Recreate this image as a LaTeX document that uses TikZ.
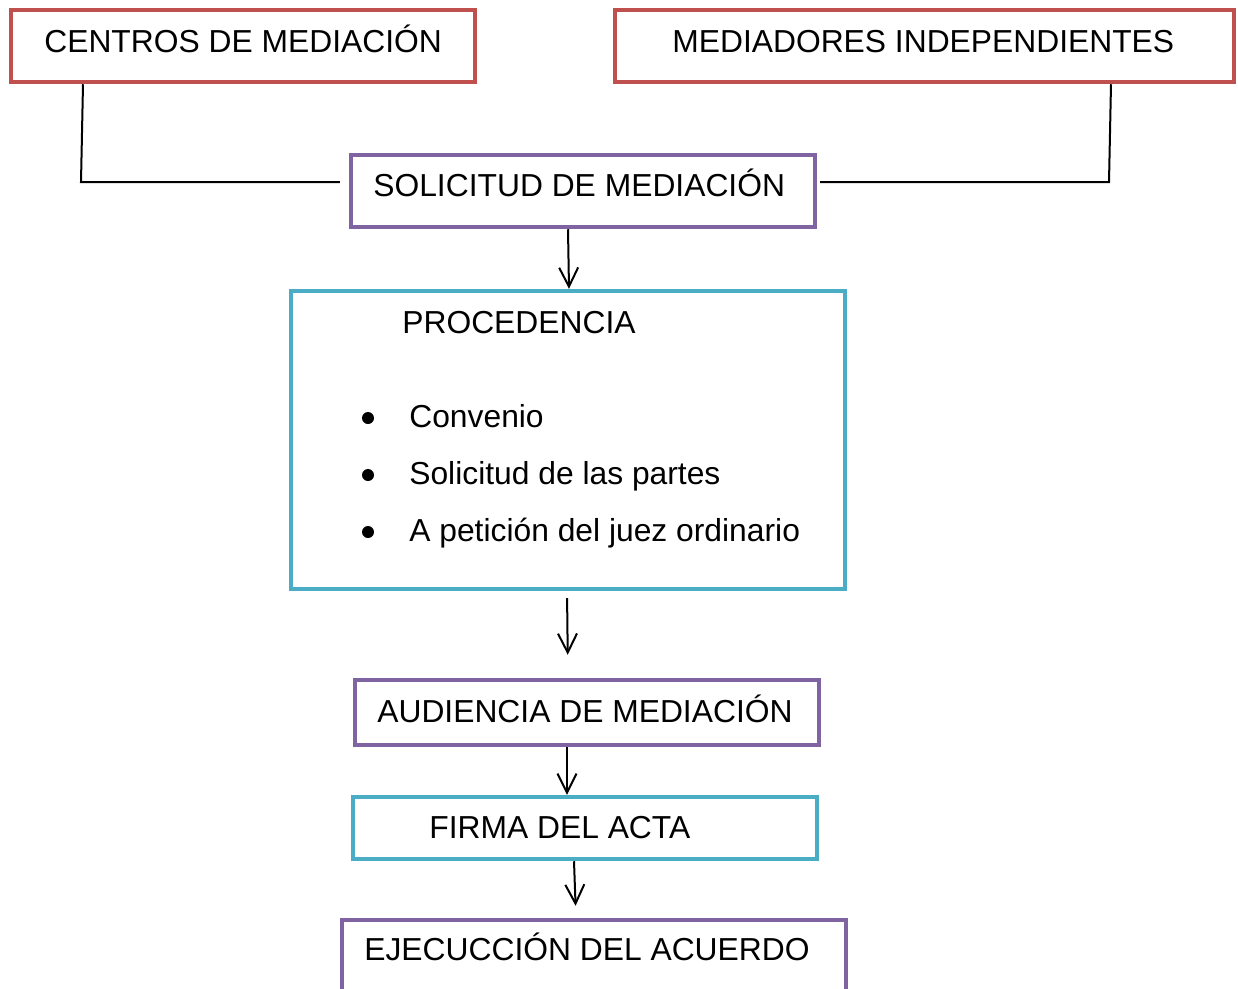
\documentclass[tikz,border=0pt]{standalone}
\usepackage{fontspec}
\setmainfont{Liberation Sans}
\usetikzlibrary{arrows.meta}
\usetikzlibrary{positioning}
\definecolor{boxred}{HTML}{C0504D}
\definecolor{boxpurple}{HTML}{8064A2}
\definecolor{boxteal}{HTML}{4BACC6}
\begin{document}
\begin{tikzpicture}[x=0.02cm,y=-0.02cm,
  redbox/.style={draw=boxred,line width=0.09cm,inner sep=0pt},
  purplebox/.style={draw=boxpurple,line width=0.09cm,inner sep=0pt},
  tealbox/.style={draw=boxteal,line width=0.09cm,inner sep=0pt},
  lbl/.style={font=\fontsize{18.1}{22}\selectfont,anchor=base west,inner sep=0pt},
  link/.style={line width=0.04cm},
  arr/.style={-{Straight Barb[length=0.38cm,width=0.38cm]},line width=0.04cm}]
\clip (0,0) rectangle (1238,988);
\fill[white] (0,0) rectangle (1238,988);
% upper boxes
\node[redbox,minimum width=9.28cm,minimum height=1.44cm] (centros) at (243,46) {};
\node[lbl] (centrosT) at (44,52) {CENTROS DE MEDIACIÓN};
\node[redbox,minimum width=12.38cm,minimum height=1.44cm] (mediad) at (924.5,46) {};
\node[lbl] (mediadT) at (672,52) {MEDIADORES INDEPENDIENTES};
\node[purplebox,minimum width=9.28cm,minimum height=1.44cm] (solic) at (583,191) {};
\node[lbl] (solicT) at (373,196) {SOLICITUD DE MEDIACIÓN};
% procedencia
\node[tealbox,minimum width=11.08cm,minimum height=5.96cm] (proc) at (568,440) {};
\node[lbl] (procT) at (402,333) {PROCEDENCIA};
\fill (368,418) circle (0.12cm);
\node[lbl] (conv) at (409,427) {Convenio};
\fill (368,475) circle (0.12cm);
\node[lbl] (partes) at (409,484) {Solicitud de las partes};
\fill (368,532) circle (0.12cm);
\node[lbl] (juez) at (409,541) {A petición del juez ordinario};
% lower boxes
\node[purplebox,minimum width=9.28cm,minimum height=1.3cm] (aud) at (587,712.5) {};
\node[lbl] (audT) at (377,722) {AUDIENCIA DE MEDIACIÓN};
\node[tealbox,minimum width=9.28cm,minimum height=1.24cm] (firma) at (585,828) {};
\node[lbl] (firmaT) at (429,838) {FIRMA DEL ACTA};
\node[purplebox,minimum width=10.08cm,minimum height=1.6cm] (ejec) at (594,960) {};
\node[lbl] (ejecT) at (364,960) {EJECUCCIÓN DEL ACUERDO};
% connectors
\coordinate (cL) at (81,182);
\coordinate (cR) at (1109,182);
\draw[link] (centros.south -| 83,0) -- (cL) -- ([xshift=-0.18cm]solic.west |- cL);
\draw[link] (mediad.south -| 1111,0) -- (cR) -- ([xshift=0.06cm]solic.east |- cR);
\draw[arr] (solic.south -| 568,0) -- (proc.north -| 569,0);
\draw[arr,shorten <=0.14cm,shorten >=0.46cm] (proc.south -| 567,0) -- (aud.north -| 568,0);
\draw[arr] (aud.south -| 567,0) -- (firma.north -| 567,0);
\draw[arr,shorten >=0.24cm] (firma.south -| 574,0) -- (ejec.north -| 576,0);
\end{tikzpicture}
\end{document}
